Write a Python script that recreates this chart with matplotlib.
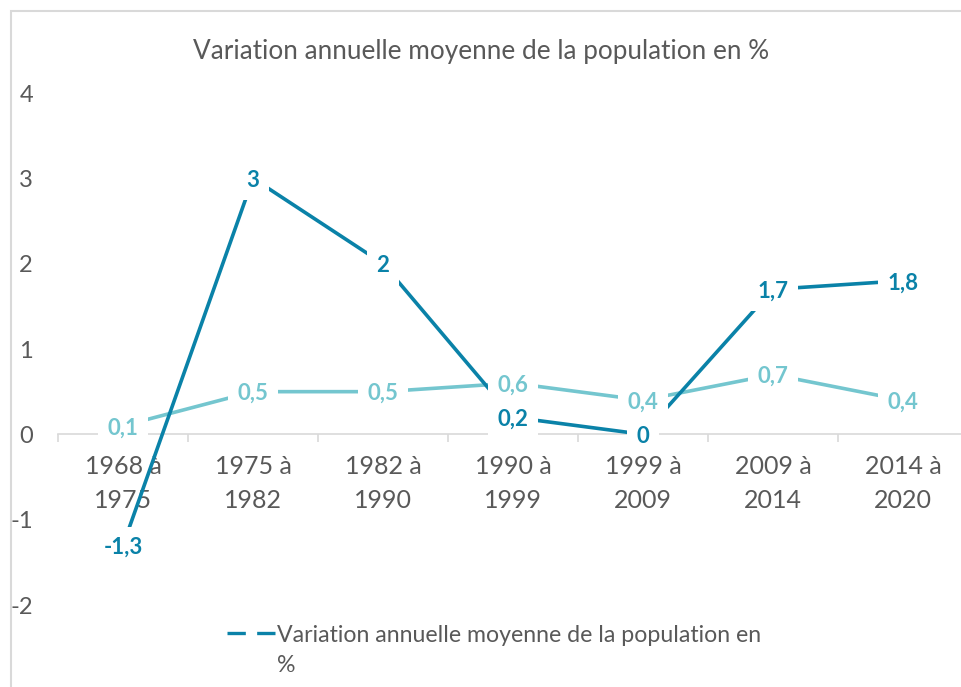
import matplotlib

matplotlib.use("Agg")
import matplotlib.pyplot as plt
from matplotlib.lines import Line2D
from matplotlib.patches import Rectangle
import numpy as np

plt.rcParams["font.family"] = ["Lato", "DejaVu Sans"]
plt.rcParams["axes.unicode_minus"] = False

periods = ["1968 à\n1975", "1975 à\n1982", "1982 à\n1990", "1990 à\n1999",
           "1999 à\n2009", "2009 à\n2014", "2014 à\n2020"]
variation_totale = [-1.3, 3, 2, 0.2, 0, 1.7, 1.8]
variation_autre = [0.1, 0.5, 0.5, 0.6, 0.4, 0.7, 0.4]
title = "Variation annuelle moyenne de la population en %"
legend_label = "Variation annuelle moyenne de la population en"

DARK = "#0a82a8"
LIGHT = "#74c6cf"
TEXT = "#595959"
GRID = "#d9d9d9"


def fmt(v):
    return f"{v:g}".replace(".", ",")


fig = plt.figure(figsize=(9.62, 6.87), dpi=100, facecolor="white")
ax = fig.add_axes([58 / 962, 82 / 687, 910 / 962, 512 / 687])

x = np.arange(len(periods))
ax.plot(x, variation_autre, color=LIGHT, lw=2.6, solid_capstyle="butt", zorder=3)
ax.plot(x, variation_totale, color=DARK, lw=2.6, solid_capstyle="butt", zorder=4)

# data labels with white boxes on top of the lines
for xi, v in zip(x, variation_autre):
    ax.text(xi, v, fmt(v), color=LIGHT, fontsize=16, fontweight="bold",
            ha="center", va="center_baseline", zorder=6,
            bbox=dict(boxstyle="square,pad=0.42", fc="white", ec="none"))
for xi, v in zip(x, variation_totale):
    ax.text(xi, v, fmt(v), color=DARK, fontsize=16, fontweight="bold",
            ha="center", va="center_baseline", zorder=7,
            bbox=dict(boxstyle="square,pad=0.42", fc="white", ec="none"))

ax.set_xlim(-0.5, 6.5)
ax.set_ylim(-2, 4)
ax.set_yticks(range(-2, 5))
ax.set_xticks(x)
ax.set_xticklabels([])
ax.set_xticks(np.arange(-0.5, 7, 1), minor=True)
ax.tick_params(axis="x", which="major", length=0)
ax.tick_params(axis="x", which="minor", length=6, width=1.2, color=GRID)
ax.tick_params(axis="y", length=0, pad=18, labelsize=17, labelcolor=TEXT)

# category labels under the zero line (two lines, wide spacing)
for xi, p in zip(x, periods):
    ax.annotate(p, xy=(xi, 0), xytext=(0, -15), textcoords="offset points",
                ha="center", va="top", fontsize=18, color=TEXT,
                linespacing=1.55, zorder=1)

for s in ["top", "right", "left"]:
    ax.spines[s].set_visible(False)
ax.spines["bottom"].set_position(("data", 0))
ax.spines["bottom"].set_color(GRID)
ax.spines["bottom"].set_linewidth(1.2)
ax.spines["bottom"].set_zorder(2)

fig.text(481 / 962, 1 - 51 / 687, title, fontsize=18.8, color=TEXT,
         ha="center", va="center")

handle = Line2D([], [], color=DARK, lw=2.4, dashes=(5.5, 3.4))
fig.legend([handle], [legend_label], loc="center left",
           bbox_to_anchor=(227 / 962, 1 - 635 / 687), frameon=False,
           fontsize=16.7, labelcolor=TEXT, handlelength=2.1, handletextpad=0.05,
           borderpad=0, borderaxespad=0)
fig.text(277 / 962, 1 - 665 / 687, "%", fontsize=16.7, color=TEXT,
         ha="left", va="center")

# outer chart frame
fig.patches.append(Rectangle((11 / 962, -0.1), 1.0, 1.1 - 11 / 687,
                             transform=fig.transFigure, fill=False,
                             ec=GRID, lw=1.5))

fig.savefig("out.png", dpi=100, facecolor="white")
